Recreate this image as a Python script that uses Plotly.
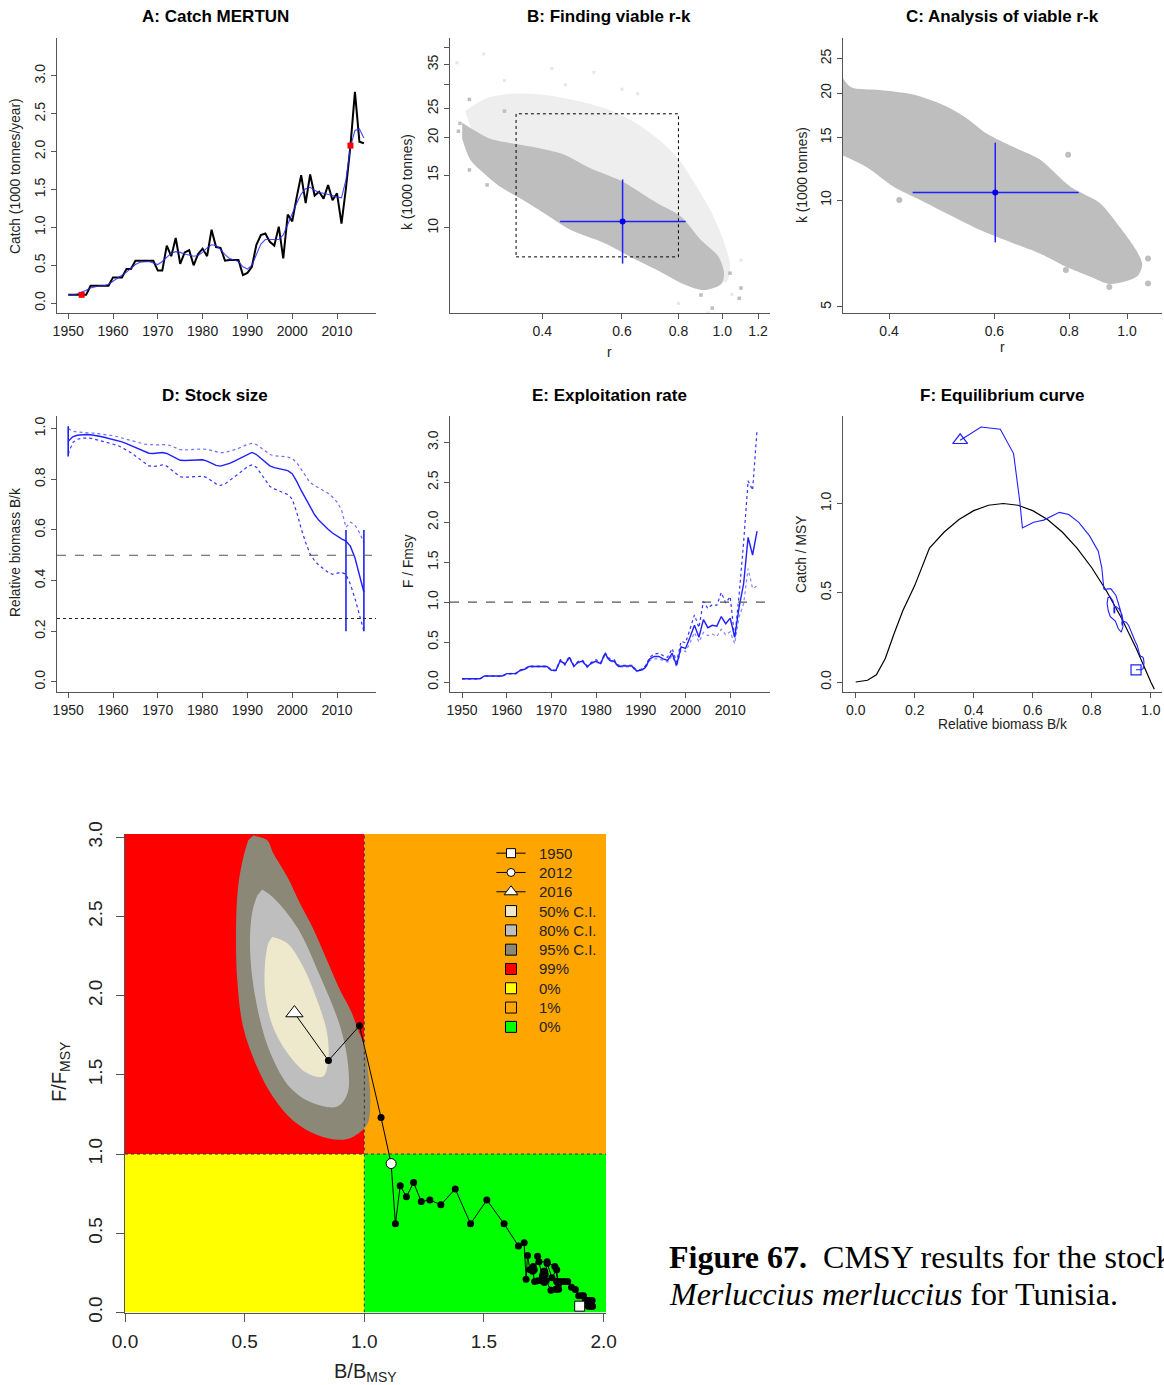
import plotly.graph_objects as go

# ---------------- data ----------------
years = list(range(1950, 2017))

catch = [0.11, 0.11, 0.11, 0.11, 0.11, 0.23, 0.23, 0.23, 0.23, 0.23,
         0.34, 0.34, 0.34, 0.45, 0.45, 0.56, 0.56, 0.56, 0.56, 0.56,
         0.43, 0.43, 0.76, 0.62, 0.86, 0.52, 0.67, 0.70, 0.50, 0.65,
         0.72, 0.62, 0.97, 0.74, 0.73, 0.56, 0.57, 0.57, 0.57, 0.37,
         0.40, 0.48, 0.77, 0.90, 0.92, 0.81, 0.76, 1.01, 0.59, 1.17,
         1.08, 1.40, 1.69, 1.32, 1.70, 1.42, 1.47, 1.38, 1.56, 1.36,
         1.45, 1.05, 1.52, 2.08, 2.79, 2.13, 2.11]

catch_smooth = [0.11, 0.11, 0.12, 0.14, 0.17, 0.20, 0.22, 0.23, 0.23, 0.25,
                0.29, 0.33, 0.36, 0.41, 0.46, 0.51, 0.54, 0.55, 0.55, 0.53,
                0.51, 0.55, 0.61, 0.66, 0.68, 0.67, 0.65, 0.63, 0.62, 0.63,
                0.67, 0.73, 0.77, 0.76, 0.71, 0.64, 0.59, 0.57, 0.55, 0.48,
                0.45, 0.50, 0.64, 0.78, 0.84, 0.84, 0.83, 0.84, 0.90, 1.03,
                1.18, 1.32, 1.44, 1.51, 1.53, 1.49, 1.46, 1.45, 1.44, 1.42,
                1.40, 1.39, 1.63, 2.06, 2.28, 2.30, 2.18]

catch_marked_years = [1953, 2013]

bk = [0.950, 0.968, 0.974, 0.976, 0.977, 0.976, 0.974, 0.970, 0.966, 0.962,
      0.958, 0.954, 0.948, 0.941, 0.933, 0.925, 0.917, 0.909, 0.903, 0.902,
      0.903, 0.906, 0.902, 0.892, 0.882, 0.875, 0.874, 0.875, 0.876, 0.878,
      0.877, 0.872, 0.862, 0.855, 0.852, 0.856, 0.863, 0.871, 0.880, 0.890,
      0.900, 0.906, 0.898, 0.882, 0.865, 0.853, 0.846, 0.841, 0.838, 0.834,
      0.822, 0.792, 0.756, 0.722, 0.690, 0.660, 0.637, 0.619, 0.603, 0.588,
      0.575, 0.565, 0.556, 0.535, 0.490, 0.425, 0.354]

bk_hi = [1.000, 0.990, 0.987, 0.985, 0.984, 0.983, 0.982, 0.980, 0.977, 0.974,
         0.972, 0.968, 0.963, 0.958, 0.953, 0.948, 0.943, 0.939, 0.937, 0.936,
         0.936, 0.937, 0.937, 0.932, 0.923, 0.917, 0.916, 0.917, 0.919, 0.920,
         0.920, 0.918, 0.913, 0.907, 0.905, 0.906, 0.910, 0.916, 0.922, 0.930,
         0.938, 0.942, 0.937, 0.925, 0.910, 0.898, 0.893, 0.891, 0.889, 0.888,
         0.882, 0.866, 0.840, 0.812, 0.787, 0.775, 0.765, 0.755, 0.745, 0.730,
         0.710, 0.680, 0.610, 0.630, 0.620, 0.590, 0.550]

bk_lo = [0.900, 0.945, 0.958, 0.962, 0.963, 0.962, 0.958, 0.953, 0.948, 0.944,
         0.940, 0.934, 0.926, 0.917, 0.905, 0.892, 0.878, 0.864, 0.853, 0.851,
         0.852, 0.857, 0.852, 0.838, 0.822, 0.810, 0.808, 0.809, 0.810, 0.812,
         0.812, 0.806, 0.795, 0.782, 0.776, 0.782, 0.795, 0.808, 0.820, 0.835,
         0.850, 0.857, 0.848, 0.823, 0.795, 0.772, 0.762, 0.755, 0.748, 0.740,
         0.722, 0.670, 0.605, 0.550, 0.505, 0.478, 0.460, 0.447, 0.433, 0.425,
         0.428, 0.433, 0.425, 0.385, 0.330, 0.265, 0.200]

bk_prior_years = [1950, 2012, 2016]
bk_prior_lo = [0.89, 0.20, 0.20]
bk_prior_hi = [1.01, 0.60, 0.60]

ff = [0.04, 0.04, 0.04, 0.04, 0.04, 0.075, 0.075, 0.075, 0.075, 0.075,
      0.105, 0.105, 0.105, 0.145, 0.16, 0.195, 0.195, 0.195, 0.195, 0.195,
      0.146, 0.146, 0.27, 0.22, 0.31, 0.195, 0.25, 0.26, 0.19, 0.24,
      0.26, 0.23, 0.355, 0.27, 0.26, 0.195, 0.20, 0.20, 0.20, 0.14,
      0.146, 0.18, 0.29, 0.32, 0.32, 0.29, 0.27, 0.36, 0.21, 0.44,
      0.42, 0.56, 0.71, 0.56, 0.78, 0.68, 0.71, 0.70, 0.82, 0.73,
      0.80, 0.56, 0.94, 1.23, 1.81, 1.59, 1.89]

ff_hi = [0.04, 0.04, 0.04, 0.04, 0.04, 0.075, 0.075, 0.075, 0.075, 0.075,
         0.105, 0.105, 0.11, 0.15, 0.165, 0.20, 0.20, 0.20, 0.20, 0.20,
         0.15, 0.15, 0.28, 0.23, 0.32, 0.21, 0.26, 0.27, 0.20, 0.25,
         0.28, 0.24, 0.37, 0.29, 0.28, 0.21, 0.21, 0.21, 0.21, 0.15,
         0.16, 0.20, 0.31, 0.35, 0.36, 0.33, 0.31, 0.42, 0.25, 0.51,
         0.49, 0.66, 0.84, 0.68, 1.01, 0.92, 0.97, 0.96, 1.12, 0.99,
         1.07, 0.55, 1.10, 1.75, 2.52, 2.40, 3.15]

ff_lo = [0.04, 0.04, 0.04, 0.04, 0.04, 0.07, 0.07, 0.07, 0.07, 0.07,
         0.10, 0.10, 0.10, 0.14, 0.155, 0.19, 0.19, 0.19, 0.19, 0.19,
         0.14, 0.14, 0.26, 0.21, 0.30, 0.19, 0.24, 0.25, 0.18, 0.23,
         0.25, 0.22, 0.34, 0.26, 0.25, 0.19, 0.19, 0.19, 0.19, 0.13,
         0.14, 0.17, 0.27, 0.29, 0.29, 0.27, 0.25, 0.33, 0.19, 0.40,
         0.38, 0.49, 0.62, 0.50, 0.62, 0.58, 0.60, 0.57, 0.66, 0.59,
         0.63, 0.48, 0.82, 0.98, 1.42, 1.17, 1.20]

msy = 1.61

# r-k estimates
r_est, r_lo, r_hi = 0.602, 0.438, 0.830
k_est, k_lo, k_hi = 10.5, 7.6, 14.5
prior_r = [0.35, 0.80]
prior_k = [8.0, 24.0]

# outline of all tried r-k pairs (panel B, light)
b_all_r = [0.270, 0.300, 0.340, 0.400, 0.480, 0.560, 0.640, 0.720, 0.800, 0.870, 0.940, 1.000,
           1.040, 1.020, 0.950, 0.800, 0.600, 0.450, 0.330, 0.280]
b_all_k = [24.5, 27.0, 28.0, 27.8, 26.5, 24.8, 22.5, 19.8, 17.0, 14.0, 11.5, 9.3,
           7.5, 6.6, 6.8, 8.5, 11.0, 14.0, 17.5, 21.0]
# outline of viable r-k pairs (panel B, dark)
b_ok_r = [0.266, 0.307, 0.352, 0.389, 0.445, 0.511, 0.600, 0.717, 0.810, 0.897, 0.982, 1.009,
          0.995, 0.910, 0.820, 0.717, 0.627, 0.548, 0.461, 0.403, 0.362, 0.323, 0.297, 0.277, 0.266]
b_ok_k = [22.4, 19.8, 19.0, 18.5, 17.6, 15.8, 14.3, 12.1, 10.9, 9.1, 8.0, 7.06,
          6.5, 6.2, 6.5, 7.24, 8.0, 8.9, 9.85, 11.2, 12.4, 13.7, 15.2, 16.9, 19.8]
b_out_r = [0.276, 0.263, 0.261, 0.276, 0.302, 0.940, 0.980, 1.040, 0.897, 1.090, 0.330, 0.950, 1.100]
b_out_k = [26.8, 22.3, 21.0, 15.6, 13.9, 8.0, 7.6, 7.06, 5.97, 5.82, 24.5, 5.4, 6.3]
b_faint_r = [0.259, 0.297, 0.420, 0.520, 0.650, 1.100, 1.050, 0.930, 0.800, 0.330, 0.450, 0.600]
b_faint_k = [35.5, 38.0, 34.0, 33.0, 28.0, 7.8, 6.0, 5.2, 5.6, 31.0, 30.0, 29.0]

# outline of viable r-k pairs (panel C)
c_ok_r = [0.330, 0.345, 0.386, 0.439, 0.500, 0.539, 0.582, 0.646, 0.715, 0.804, 0.901, 0.972,
          1.037, 1.060, 1.040, 0.936, 0.869, 0.789, 0.715, 0.646, 0.568, 0.512, 0.451, 0.407,
          0.366, 0.330]
c_ok_k = [23.0, 20.8, 20.4, 19.8, 18.3, 17.0, 15.4, 14.1, 13.0, 10.9, 9.8, 8.4,
          7.2, 6.6, 6.1, 5.8, 6.08, 6.5, 7.07, 7.55, 8.23, 8.97, 10.0, 10.9,
          12.4, 13.5]
c_out_r = [0.797, 0.416, 1.084, 1.084, 0.934, 0.970, 0.790, 1.000]
c_out_k = [13.4, 10.0, 6.85, 5.82, 5.69, 6.02, 6.35, 7.6]

# equilibrium curve (panel F)
eq_x = [0.0, 0.04, 0.07, 0.10, 0.13, 0.16, 0.20, 0.25, 0.30, 0.35, 0.40, 0.45, 0.50,
        0.55, 0.60, 0.65, 0.70, 0.75, 0.80, 0.85, 0.90, 0.95, 1.00, 1.012]
eq_y = [0.0, 0.01, 0.04, 0.13, 0.27, 0.40, 0.54, 0.75, 0.84, 0.91, 0.96, 0.99, 1.00,
        0.99, 0.96, 0.91, 0.84, 0.75, 0.64, 0.51, 0.36, 0.19, 0.0, -0.04]

# Kobe confidence regions (B/Bmsy, F/Fmsy)
ci95_x = [0.536, 0.594, 0.619, 0.678, 0.732, 0.787, 0.845, 0.900, 0.945, 0.975, 0.996, 1.017,
          1.025, 1.013, 0.954, 0.900, 0.803, 0.703, 0.619, 0.552, 0.494, 0.469, 0.464, 0.473,
          0.494, 0.515]
ci95_y = [3.01, 2.98, 2.90, 2.75, 2.58, 2.42, 2.22, 2.03, 1.90, 1.78, 1.70, 1.51,
          1.32, 1.19, 1.11, 1.09, 1.12, 1.21, 1.36, 1.55, 1.80, 2.10, 2.41, 2.69,
          2.87, 2.98]
ci80_x = [0.573, 0.619, 0.720, 0.816, 0.900, 0.933, 0.929, 0.887, 0.787, 0.690, 0.607, 0.552,
          0.523, 0.531, 0.552]
ci80_y = [2.67, 2.62, 2.43, 2.12, 1.80, 1.55, 1.38, 1.30, 1.32, 1.42, 1.64, 1.93,
          2.27, 2.52, 2.63]
ci50_x = [0.615, 0.678, 0.745, 0.803, 0.845, 0.849, 0.828, 0.762, 0.678, 0.619, 0.586, 0.586,
          0.598]
ci50_y = [2.37, 2.33, 2.18, 1.97, 1.76, 1.59, 1.49, 1.51, 1.64, 1.80, 2.01, 2.22,
          2.33]

kobe_special_years = [1950, 2012, 2016]
legend_labels = ["1950", "2012", "2016", "50% C.I.", "80% C.I.", "95% C.I.",
                 "99%", "0%", "1%", "0%"]

# ---------------- styling helpers ----------------
W, H = 1164, 1385
FONT = "Liberation Sans"
BLUE = "#1f1fff"
TXT = "#222222"

def xd(p0, p1):
    return [p0 / W, p1 / W]

def yd(top, bottom):
    return [1 - bottom / H, 1 - top / H]

traces_back, traces_front = [], []

def add(ax, front=True, **kw):
    kw.setdefault("hoverinfo", "skip")
    kw.setdefault("showlegend", False)
    t = go.Scatter(xaxis="x" + ax, yaxis="y" + ax, **kw)
    (traces_front if front else traces_back).append(t)

def axis(domain, rng, anchor, typ="linear", size=14, ticklen=5, angle=None, standoff=None, **kw):
    d = dict(domain=domain, range=rng, anchor=anchor, type=typ, showline=True,
             linecolor="#555555", linewidth=1.3, ticks="outside", ticklen=ticklen,
             tickcolor="#555555", tickwidth=1, showgrid=False, zeroline=False, automargin=False,
             tickfont=dict(family=FONT, size=size, color=TXT), fixedrange=True)
    if angle is not None:
        d["tickangle"] = angle
    if standoff is not None:
        d["ticklabelstandoff"] = standoff
    d.update(kw)
    return d

def arr(vals, fmt="%.1f"):
    return dict(tickmode="array", tickvals=vals, ticktext=[fmt % v for v in vals])

yr = dict(tickmode="array", tickvals=[1950, 1960, 1970, 1980, 1990, 2000, 2010],
          ticktext=["1950", "1960", "1970", "1980", "1990", "2000", "2010"])

layout = dict(width=W, height=H, margin=dict(l=0, r=0, t=0, b=0, autoexpand=False),
              paper_bgcolor="white", plot_bgcolor="white", showlegend=False,
              font=dict(family=FONT, color=TXT))

# A
layout["xaxis"] = axis(xd(57, 376), [1947.5, 2018.7], "y", **yr)
layout["yaxis"] = axis(yd(38, 313), [-0.13, 3.5], "x", angle=-90,
                       **arr([0, 0.5, 1.0, 1.5, 2.0, 2.5, 3.0]))
# B
layout["xaxis2"] = axis(xd(450, 770), [-0.602, 0.1055], "y2", typ="log",
                        **arr([0.4, 0.6, 0.8, 1.0, 1.2]))
layout["yaxis2"] = axis(yd(38, 313), [0.716, 1.633], "x2", typ="log", angle=-90,
                        **arr([10, 15, 20, 25, 35], "%d"),
                        minor=dict(tickmode="array", tickvals=[30, 40], ticks="outside",
                                   ticklen=5, tickcolor="#555555", showgrid=False))
# C
layout["xaxis3"] = axis(xd(843, 1162), [-0.475, 0.0584], "y3", typ="log",
                        **arr([0.4, 0.6, 0.8, 1.0]))
layout["yaxis3"] = axis(yd(38, 313), [0.682, 1.456], "x3", typ="log", angle=-90,
                        **arr([5, 10, 15, 20, 25], "%d"))
# D
layout["xaxis4"] = axis(xd(57, 376), [1947.5, 2018.7], "y4", **yr)
layout["yaxis4"] = axis(yd(416, 692), [-0.04, 1.05], "x4", angle=-90,
                        **arr([0, 0.2, 0.4, 0.6, 0.8, 1.0]))
# E
layout["xaxis5"] = axis(xd(450, 770), [1947.3, 2018.9], "y5", **yr)
layout["yaxis5"] = axis(yd(416, 692), [-0.125, 3.33], "x5", angle=-90,
                        **arr([0, 0.5, 1.0, 1.5, 2.0, 2.5, 3.0]))
# F
layout["xaxis6"] = axis(xd(843, 1162), [-0.043, 1.038], "y6",
                        **arr([0, 0.2, 0.4, 0.6, 0.8, 1.0]))
layout["yaxis6"] = axis(yd(416, 692), [-0.056, 1.49], "x6", angle=-90,
                        **arr([0, 0.5, 1.0]))
# Kobe
layout["xaxis7"] = axis(xd(125, 606), [0, 2.01], "y7", size=19, ticklen=8, standoff=4,
                        **arr([0, 0.5, 1.0, 1.5, 2.0]))
layout["yaxis7"] = axis(yd(834, 1312.5), [0, 3.02], "x7", size=19, ticklen=8, standoff=6,
                        angle=-90, **arr([0, 0.5, 1.0, 1.5, 2.0, 2.5, 3.0]))

# ---------------- A: catch ----------------
add("", x=years, y=catch, mode="lines", line=dict(color="black", width=2))
add("", x=years, y=catch_smooth, mode="lines", line=dict(color="rgba(40,40,255,0.85)", width=1.1))
mk_idx = [years.index(y) for y in catch_marked_years]
add("", x=catch_marked_years, y=[catch[i] for i in mk_idx], mode="markers",
    marker=dict(symbol="square", size=6, color="red"))

# ---------------- B: finding viable r-k ----------------
add("2", front=False, x=b_all_r, y=b_all_k, mode="lines", fill="toself", fillcolor="#EEEEEE",
    line=dict(width=0, color="#EEEEEE", shape="spline", smoothing=0.8))
add("2", front=False, x=b_faint_r, y=b_faint_k, mode="markers",
    marker=dict(symbol="square", size=3, color="#E6E6E6"))
add("2", front=False, x=b_ok_r, y=b_ok_k, mode="lines", fill="toself", fillcolor="#BEBEBE",
    line=dict(width=0, color="#BEBEBE", shape="spline", smoothing=0.8))
add("2", front=False, x=b_out_r, y=b_out_k, mode="markers",
    marker=dict(symbol="square", size=3.5, color="#BEBEBE"))
add("2", x=[prior_r[0], prior_r[1], prior_r[1], prior_r[0], prior_r[0]],
    y=[prior_k[0], prior_k[0], prior_k[1], prior_k[1], prior_k[0]], mode="lines",
    line=dict(color="black", width=1, dash="dot"))

# ---------------- C: analysis of viable r-k ----------------
add("3", front=False, x=c_ok_r, y=c_ok_k, mode="lines", fill="toself", fillcolor="#BEBEBE",
    line=dict(width=0, color="#BEBEBE", shape="spline", smoothing=0.8))
add("3", front=False, x=c_out_r, y=c_out_k, mode="markers", marker=dict(size=6, color="#BEBEBE"))

for ax in ("2", "3"):
    add(ax, x=[r_lo, r_hi], y=[k_est, k_est], mode="lines", line=dict(color=BLUE, width=1.5))
    add(ax, x=[r_est, r_est], y=[k_lo, k_hi], mode="lines", line=dict(color=BLUE, width=1.5))
    add(ax, x=[r_est], y=[k_est], mode="markers", marker=dict(color="#0000ee", size=6))

# ---------------- D: stock size ----------------
add("4", x=years, y=bk_hi, mode="lines", line=dict(color="rgba(60,60,255,0.75)", width=1.2, dash="dot"))
add("4", x=years, y=bk_lo, mode="lines", line=dict(color="rgba(30,30,255,0.9)", width=1.2, dash="dot"))
add("4", x=years, y=bk, mode="lines", line=dict(color=BLUE, width=1.4))
for yy, lo, hi in zip(bk_prior_years, bk_prior_lo, bk_prior_hi):
    add("4", x=[yy, yy], y=[lo, hi], mode="lines", line=dict(color=BLUE, width=1.6))

# ---------------- E: exploitation rate ----------------
add("5", x=years, y=ff_hi, mode="lines", line=dict(color="rgba(30,30,255,0.9)", width=1.2, dash="dot"))
add("5", x=years, y=ff_lo, mode="lines", line=dict(color="rgba(80,80,255,0.7)", width=1.2, dash="dot"))
add("5", x=years, y=ff, mode="lines", line=dict(color=BLUE, width=1.4))

# ---------------- F: equilibrium curve ----------------
add("6", x=eq_x, y=eq_y, mode="lines", line=dict(color="black", width=1.2))
f_y = [c / msy for c in catch_smooth]
add("6", x=bk, y=f_y, mode="lines", line=dict(color=BLUE, width=1.1))
add("6", x=[bk[0]], y=[f_y[0]], mode="markers",
    marker=dict(symbol="square-open", size=10, color=BLUE, line=dict(width=1.2)))
add("6", x=[bk[-1]], y=[f_y[-1]], mode="markers",
    marker=dict(symbol="triangle-up-open", size=13, color=BLUE, line=dict(width=1.2)))

# ---------------- Kobe plot ----------------
shapes = []
quad = [(0, 1, 1, 3.02, "#FF0000"), (1, 2.01, 1, 3.02, "#FFA500"),
        (0, 1, 0, 1, "#FFFF00"), (1, 2.01, 0, 1, "#00FF00")]
for x0, x1, y0, y1, col in quad:
    shapes.append(dict(type="rect", xref="x7", yref="y7", x0=x0, x1=x1, y0=y0, y1=y1,
                       fillcolor=col, line=dict(width=0), layer="below"))

for cx, cy, col in ((ci95_x, ci95_y, "#8B8878"), (ci80_x, ci80_y, "#BEBEBE"), (ci50_x, ci50_y, "#EEE8CD")):
    add("7", x=cx, y=cy, mode="lines", fill="toself", fillcolor=col,
        line=dict(width=0, color=col, shape="spline", smoothing=1.0))

shapes.append(dict(type="line", xref="x7", yref="y7", x0=1, x1=1, y0=0, y1=3.02,
                   line=dict(color="#333333", width=1, dash="dot"), layer="above"))
shapes.append(dict(type="line", xref="x7", yref="y7", x0=0, x1=2.01, y0=1, y1=1,
                   line=dict(color="#333333", width=1, dash="dot"), layer="above"))

kobe_x = [2 * b for b in bk]
add("7", x=kobe_x, y=ff, mode="lines+markers", line=dict(color="black", width=1),
    marker=dict(color="black", size=7))
sp = [years.index(y) for y in kobe_special_years]
for idx, sym, sz in zip(sp, ("square", "circle", "triangle-up"), (10, 10, 15)):
    add("7", x=[kobe_x[idx]], y=[ff[idx]], mode="markers",
        marker=dict(symbol=sym, size=sz, color="white", line=dict(color="black", width=1)))

# legend (drawn inside the Kobe panel)
leg_y0, leg_dy = 2.899, 0.1218
leg_x0, leg_x1, leg_xm, leg_xt = 1.552, 1.674, 1.613, 1.722
box_cols = ["#EEE8CD", "#BEBEBE", "#8B8878", "#FF0000", "#FFFF00", "#FFA500", "#00FF00"]
annotations = []
for i, lab in enumerate(legend_labels):
    yy = leg_y0 - i * leg_dy
    if i < 3:
        add("7", x=[leg_x0, leg_x1], y=[yy, yy], mode="lines", line=dict(color="black", width=1))
        sym, sz = [("square", 9), ("circle", 8), ("triangle-up", 12)][i]
        add("7", x=[leg_xm], y=[yy], mode="markers",
            marker=dict(symbol=sym, size=sz, color="white", line=dict(color="black", width=1)))
    else:
        add("7", x=[leg_xm], y=[yy], mode="markers",
            marker=dict(symbol="square", size=11, color=box_cols[i - 3], line=dict(color="black", width=1)))
    annotations.append(dict(xref="x7", yref="y7", x=leg_xt, y=yy, text=lab, showarrow=False,
                            xanchor="left", yanchor="middle", font=dict(family=FONT, size=15, color=TXT)))

# reference lines in D and E
shapes.append(dict(type="line", xref="x4 domain", yref="y4", x0=0, x1=1, y0=0.5, y1=0.5,
                   line=dict(color="#555555", width=1.2, dash="dash")))
shapes.append(dict(type="line", xref="x4 domain", yref="y4", x0=0, x1=1, y0=0.25, y1=0.25,
                   line=dict(color="#222222", width=1.1, dash="dot")))
shapes.append(dict(type="line", xref="x5 domain", yref="y5", x0=0, x1=1, y0=1.0, y1=1.0,
                   line=dict(color="#555555", width=1.2, dash="dash")))

# ---------------- titles & labels ----------------
def ann(text, px, py, size=13.8, angle=0, bold=False, family=FONT, anchor="center", color=TXT):
    annotations.append(dict(xref="paper", yref="paper", x=px / W, y=1 - py / H,
                            text=("<b>%s</b>" % text) if bold else text, showarrow=False,
                            textangle=angle, xanchor=anchor, yanchor="middle",
                            font=dict(family=family, size=size, color=color)))

ann("A: Catch MERTUN", 215, 17, size=17, bold=True, color="black")
ann("B: Finding viable r-k", 609, 17, size=17, bold=True, color="black")
ann("C: Analysis of viable r-k", 1002, 17, size=17, bold=True, color="black")
ann("D: Stock size", 215, 395, size=17, bold=True, color="black")
ann("E: Exploitation rate", 609, 395, size=17, bold=True, color="black")
ann("F: Equilibrium curve", 1002, 395, size=17, bold=True, color="black")

ann("Catch (1000 tonnes/year)", 15, 176, angle=-90)
ann("k (1000 tonnes)", 408, 182, angle=-90)
ann("r", 609, 352)
ann("k (1000 tonnes)", 802, 175, angle=-90)
ann("r", 1002, 347)
ann("Relative biomass B/k", 15, 553, angle=-90)
ann("F / Fmsy", 408, 561, angle=-90)
ann("Catch / MSY", 802, 555, angle=-90)
ann("Relative biomass B/k", 1002, 724)

ann("B/B<sub>MSY</sub>", 365, 1372, size=20)
ann("F/F<sub>MSY</sub>", 60, 1072, size=20, angle=-90)

ann("<b>Figure 67.</b>  CMSY results for the stock of", 667, 1257, size=32,
    family="Liberation Serif", anchor="left", color="black")
ann("<i>Merluccius merluccius</i> for Tunisia.", 667, 1294, size=32,
    family="Liberation Serif", anchor="left", color="black")

layout["shapes"] = shapes
layout["annotations"] = annotations

fig = go.Figure(data=traces_back + traces_front)
fig.update_layout(**layout)

fig.write_html("out.html", config={"displayModeBar": False},
               post_script="document.body.style.margin='0px';")
